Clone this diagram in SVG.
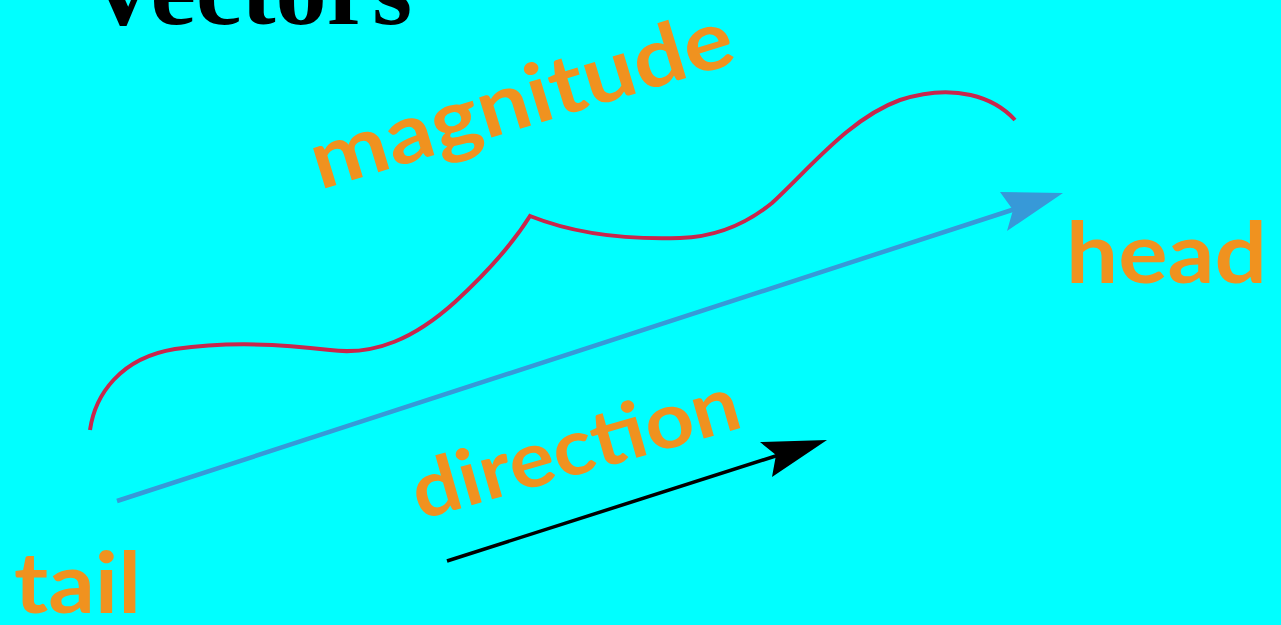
<svg xmlns="http://www.w3.org/2000/svg" width="1281" height="625" viewBox="0 0 1281 625">
<style>
.lbl{font-family:Lato,"Noto Sans","Liberation Sans",sans-serif;fill:#F0921F;font-weight:bold}
.title{font-family:"Liberation Serif","DejaVu Serif",serif;font-weight:bold;fill:#000}
</style>
<rect width="1281" height="625" fill="#00FFFF"/>
<g id="title"><text class="title" x="86" y="24" font-size="100" textLength="326" lengthAdjust="spacingAndGlyphs">Vectors</text></g>
<g id="magnitude-label"><text class="lbl" font-size="82" transform="translate(320,190) rotate(-17)" textLength="438" lengthAdjust="spacingAndGlyphs">magnitude</text></g>
<g id="head-label"><text class="lbl" x="1066" y="283" font-size="85" textLength="201" lengthAdjust="spacingAndGlyphs">head</text></g>
<g id="tail-label"><text class="lbl" x="14" y="613" font-size="85" textLength="127" lengthAdjust="spacingAndGlyphs">tail</text></g>
<g id="direction-label"><text class="lbl" font-size="78" transform="translate(420,520) rotate(-16)" textLength="338" lengthAdjust="spacingAndGlyphs">direction</text></g>
<g id="connectors">
<path id="magnitude-path" d="M90,430 C95,395 120,358 175,349 C230,341 290,345 330,350 C375,356 415,338 455,302 C492,268 515,240 530,216 C570,232 620,240 680,238 C715,237 745,225 772,203 C810,168 850,118 900,100 C955,82 995,98 1015,120" fill="none" stroke="#C8264C" stroke-width="4"/>
<g id="vector-arrow">
<line x1="117" y1="501" x2="1015" y2="209" stroke="#3799D8" stroke-width="4.5"/>
<path d="M1063,193 L1000,192 L1013,210 L1007,231 Z" fill="#3799D8"/>
</g>
<g id="direction-arrow">
<line x1="447" y1="561" x2="785" y2="453" stroke="#000" stroke-width="3.5"/>
<path d="M827,440 L760,442 L776,455 L772,477 Z" fill="#000"/>
</g>
</g>
</svg>
